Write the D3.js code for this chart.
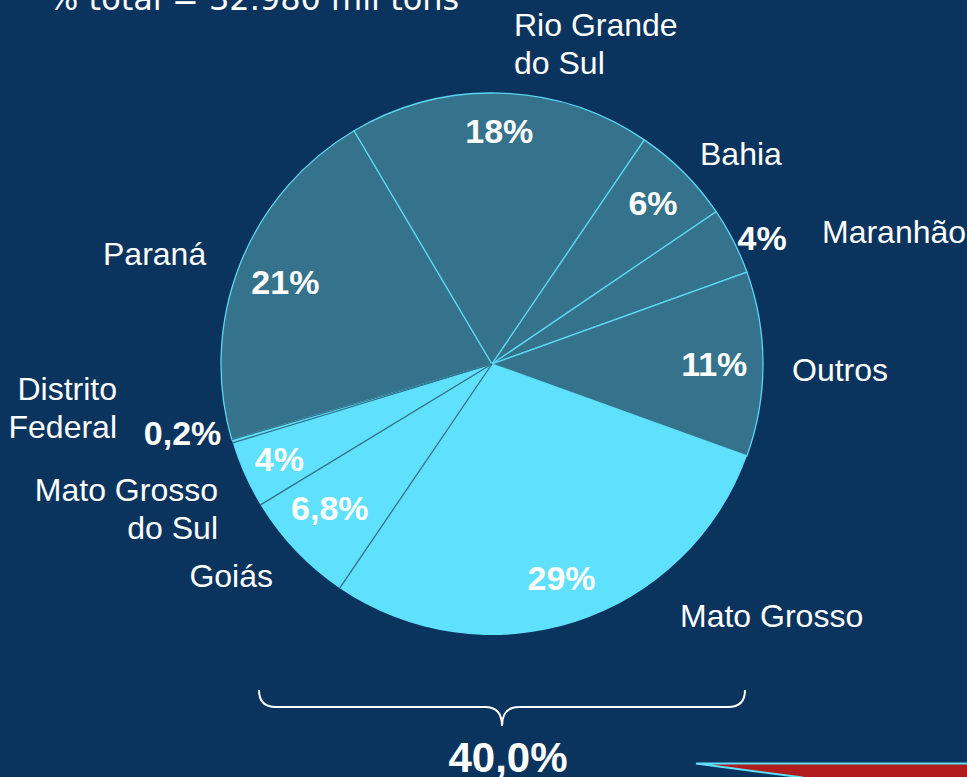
<!DOCTYPE html>
<meta charset="utf-8">
<style>
  html, body { margin: 0; padding: 0; background: #0a345e; }
  svg { display: block; }
  text { fill: #fff; font-family: "Liberation Sans", Arial, sans-serif; }
</style>
<body>
<script src="https://d3js.org/d3.v7.min.js"></script>
<script>
// soja - participacao por estado
var estados = ["Mato Grosso", "Goiás", "Mato Grosso do Sul", "Distrito Federal",
               "Paraná", "Rio Grande do Sul", "Bahia", "Maranhão", "Outros"];
var valores = [29, 6.8, 4, 0.2, 21, 18, 6, 4, 11];
var rotulos = ["29%", "6,8%", "4%", "0,2%", "21%", "18%", "6%", "4%", "11%"];
var destaque = [true, true, true, true, false, false, false, false, false];
var titulo = "% total = 32.980 mil tons";
var totalDestaque = "40,0%";

var width = 967, height = 777;
var cx = 492, cy = 364, R = 271;

var svg = d3.select("body").append("svg")
    .attr("width", width)
    .attr("height", height);

svg.append("rect").attr("width", width).attr("height", height).attr("fill", "#0a345e");

var start = 109.8 * Math.PI / 180;
var pie = d3.pie().sort(null).value(function(d) { return d; })
    .startAngle(start).endAngle(start + 2 * Math.PI);
var arcs = pie(valores);
var arc = d3.arc().innerRadius(0).outerRadius(R);

var g = svg.append("g").attr("transform", "translate(" + cx + "," + cy + ")");

// escuras primeiro (borda ciano), claras por cima
g.selectAll("path.escura")
    .data(arcs.filter(function(d, i) { return !destaque[i]; }))
  .enter().append("path")
    .attr("class", "escura")
    .attr("d", arc)
    .attr("fill", "#34738b")
    .attr("stroke", "#5cd6f2")
    .attr("stroke-width", 1.3);

g.selectAll("path.clara")
    .data(arcs.filter(function(d, i) { return destaque[i]; }))
  .enter().append("path")
    .attr("class", "clara")
    .attr("d", arc)
    .attr("fill", "#5fe0fc");

// divisões escuras entre fatias claras
var divs = arcs.filter(function(d, i) { return destaque[i] && i > 0; }).map(function(d) { return d.startAngle; });
divs.push(arcs[3].endAngle);
g.selectAll("line.div")
    .data(divs)
  .enter().append("line")
    .attr("x1", 0).attr("y1", 0)
    .attr("x2", function(a) { return d3.pointRadial(a, R)[0]; })
    .attr("y2", function(a) { return d3.pointRadial(a, R)[1]; })
    .attr("stroke", "#34738b")
    .attr("stroke-width", 1.3);

// rotulos de porcentagem (fator de raio e desvio de angulo por fatia)
var raioRotulo = [0.83, 0.80, 0.86, 1.17, 0.82, 0.86, 0.84, 1.10, 0.82];
var desvioAng = [0, 2, 0, 4, 0, 0, 0, 2, 0];
function posRotulo(d, i) {
  var a = (d.startAngle + d.endAngle) / 2 + desvioAng[i] * Math.PI / 180;
  return d3.pointRadial(a, R * raioRotulo[i]);
}
g.selectAll("text.pct")
    .data(arcs)
  .enter().append("text")
    .attr("class", "pct")
    .attr("x", function(d, i) { return posRotulo(d, i)[0]; })
    .attr("y", function(d, i) { return posRotulo(d, i)[1]; })
    .attr("text-anchor", "middle")
    .attr("dominant-baseline", "central")
    .style("font-size", "34px")
    .style("font-weight", "bold")
    .text(function(d, i) { return rotulos[i]; });

// nomes dos estados
var nomes = [
  {linhas: ["Mato Grosso"], x: 680, y: 627, anchor: "start"},
  {linhas: ["Goiás"], x: 273, y: 587, anchor: "end"},
  {linhas: ["Mato Grosso", "do Sul"], x: 218, y: 501, anchor: "end"},
  {linhas: ["Distrito", "Federal"], x: 117, y: 400, anchor: "end"},
  {linhas: ["Paraná"], x: 103, y: 265, anchor: "start"},
  {linhas: ["Rio Grande", "do Sul"], x: 514, y: 36, anchor: "start"},
  {linhas: ["Bahia"], x: 700, y: 165, anchor: "start"},
  {linhas: ["Maranhão"], x: 822, y: 243, anchor: "start"},
  {linhas: ["Outros"], x: 792, y: 381, anchor: "start"}
];
nomes.forEach(function(n) {
  var t = svg.append("text")
      .attr("x", n.x).attr("y", n.y)
      .attr("text-anchor", n.anchor)
      .style("font-size", "32px");
  n.linhas.forEach(function(l, k) {
    t.append("tspan").attr("x", n.x).attr("dy", k ? 38 : 0).text(l);
  });
});

// titulo cortado no topo
svg.append("text")
    .attr("x", 48).attr("y", 10)
    .style("font-family", "'DejaVu Sans', sans-serif")
    .style("font-size", "32px")
    .text(titulo);

// chave
var bx0 = 259, bx1 = 745, bxm = 502, by0 = 690, by1 = 707, by2 = 726;
svg.append("path")
    .attr("d", "M" + bx0 + "," + by0 + " Q" + bx0 + "," + by1 + " " + (bx0 + 17) + "," + by1 +
               " L" + (bxm - 17) + "," + by1 + " Q" + bxm + "," + by1 + " " + bxm + "," + by2 +
               " Q" + bxm + "," + by1 + " " + (bxm + 17) + "," + by1 +
               " L" + (bx1 - 17) + "," + by1 + " Q" + bx1 + "," + by1 + " " + bx1 + "," + by0)
    .attr("fill", "none")
    .attr("stroke", "#fff")
    .attr("stroke-width", 2);

svg.append("text")
    .attr("x", 508).attr("y", 772)
    .attr("text-anchor", "middle")
    .style("font-size", "42px")
    .style("font-weight", "bold")
    .text(totalDestaque);

// seta vermelha (canto inferior direito)
svg.append("path")
    .attr("d", "M696,764 L967,764 L967,777 L803,777 Z")
    .attr("fill", "#b01c1c");
svg.append("path")
    .attr("d", "M967,763.5 L696,763.5 L803,777.5")
    .attr("fill", "none")
    .attr("stroke", "#5fe0fc")
    .attr("stroke-width", 2);
</script>
</body>
